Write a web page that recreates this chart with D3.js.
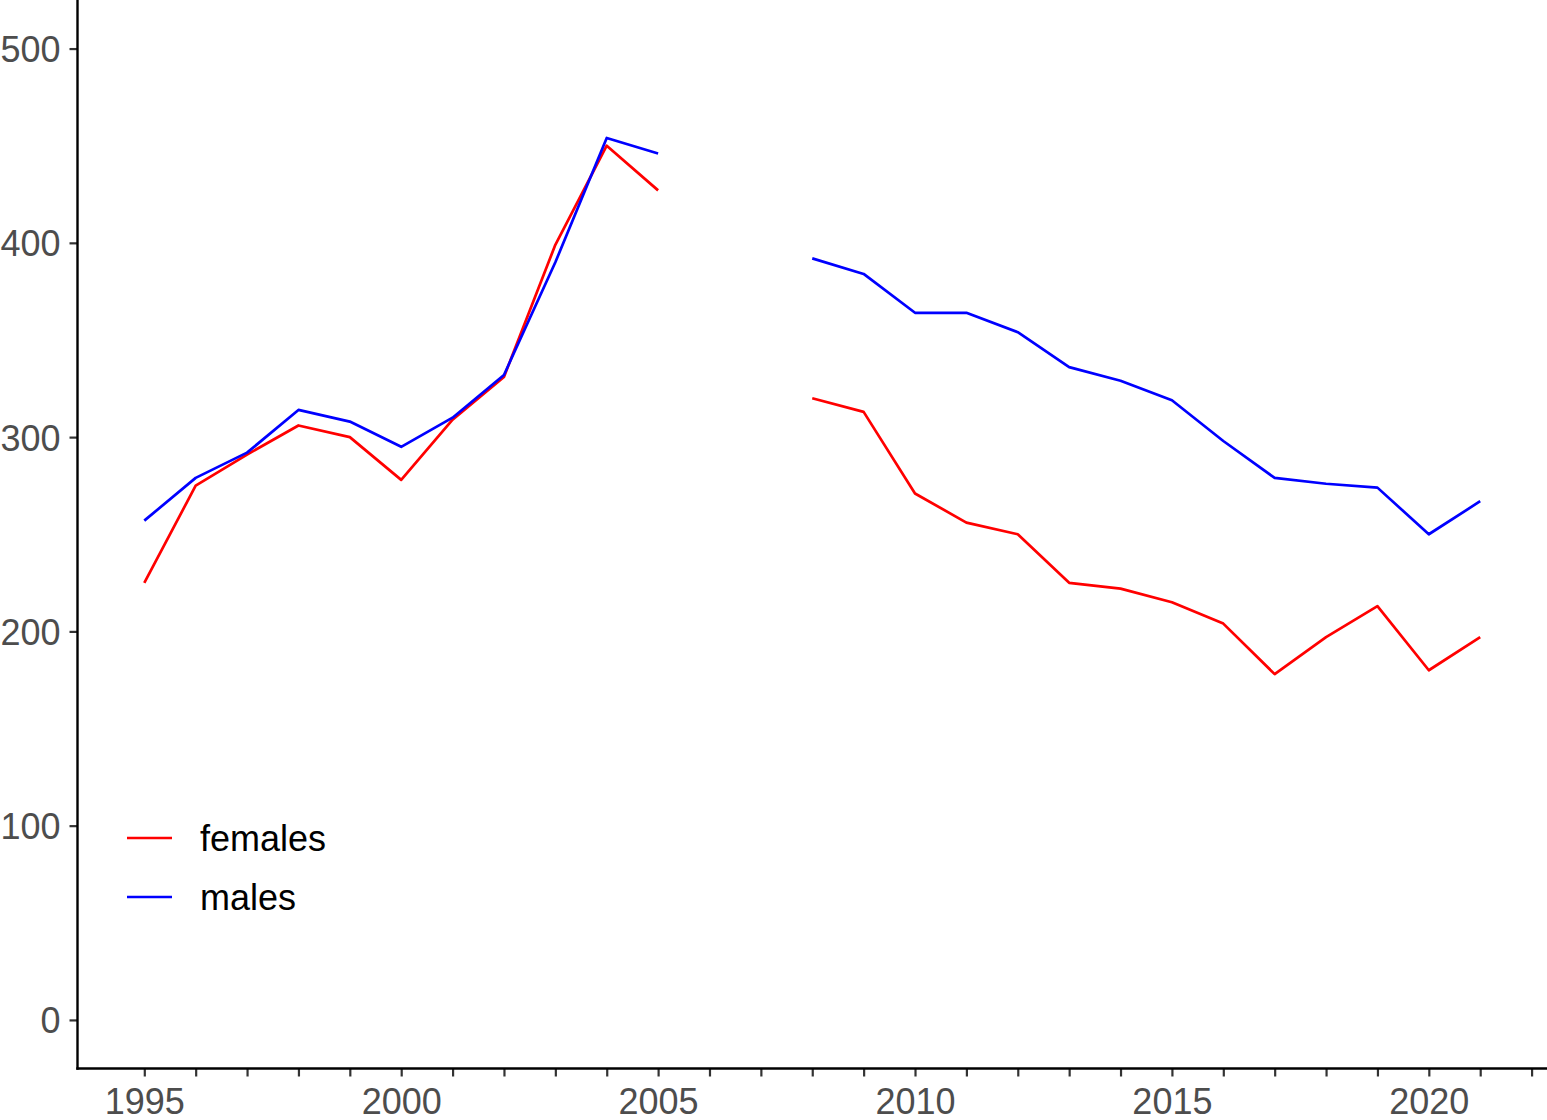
<!DOCTYPE html>
<html>
<head>
<meta charset="utf-8">
<script src="https://cdn.jsdelivr.net/npm/d3@7"></script>
<style>
  html, body { margin: 0; padding: 0; background: #fff; }
  svg { display: block; font-family: "Liberation Sans", Arial, sans-serif; }
</style>
</head>
<body>
<script>
// Annual counts by sex; 2006 and 2007 have no data (gap in the lines)
const years   = [1995, 1996, 1997, 1998, 1999, 2000, 2001, 2002, 2003, 2004, 2005, 2006, 2007,
                 2008, 2009, 2010, 2011, 2012, 2013, 2014, 2015, 2016, 2017, 2018, 2019, 2020, 2021];
const females = [225, 275, 291, 306, 300, 278, 309, 331, 399, 450, 427, null, null,
                 320, 313, 271, 256, 250, 225, 222, 215, 204, 178, 197, 213, 180, 197];
const males   = [257, 279, 292, 314, 308, 295, 310, 332, 390, 454, 446, null, null,
                 392, 384, 364, 364, 354, 336, 329, 319, 298, 279, 276, 274, 250, 267];

const seriesNames  = ["females", "males"];
const seriesColors = ["#FF0000", "#0000FF"];
const yTicks = [0, 100, 200, 300, 400, 500];
const xMajorTicks = [1995, 2000, 2005, 2010, 2015, 2020];
const xMinorTicks = d3.range(1995, 2023);

const W = 1547, H = 1120;
const plotLeft = 77.5, plotTop = 0, plotRight = W, plotBottom = 1068.5;

const svg = d3.select("body").append("svg")
  .attr("width", W).attr("height", H);

// data range 1995–2021 with 5% padding each side; y fixed to 0–500 with 5% padding
const xSpan = 2021 - 1995;
const x = d3.scaleLinear()
  .domain([1995 - 0.05 * xSpan, 2021 + 0.05 * xSpan])
  .range([plotLeft, plotRight]);
const y = d3.scaleLinear()
  .domain([-25, 525])
  .range([plotBottom, plotTop]);

// lines
const series = [females, males];
const line = d3.line()
  .defined(d => d.v != null)
  .x(d => x(d.year))
  .y(d => y(d.v));

series.forEach((vals, i) => {
  const pts = years.map((yr, j) => ({ year: yr, v: vals[j] }));
  svg.append("path")
    .datum(pts)
    .attr("fill", "none")
    .attr("stroke", seriesColors[i])
    .attr("stroke-width", 2.7)
    .attr("stroke-linejoin", "round")
    .attr("d", line);
});

// y axis
const yAxis = d3.axisLeft(y)
  .tickValues(yTicks)
  .tickSize(8)
  .tickPadding(9)
  .tickFormat(d3.format("d"));
const gy = svg.append("g")
  .attr("transform", `translate(${plotLeft},0)`)
  .call(yAxis);
gy.select(".domain").remove();
gy.selectAll(".tick line").attr("stroke", "#333333").attr("stroke-width", 2.2);
gy.selectAll(".tick text")
  .attr("fill", "#4D4D4D")
  .attr("font-size", 36)
  .attr("dy", "0.36em");

// x axis: a tick every year, labels every five years
const xAxis = d3.axisBottom(x)
  .tickValues(xMinorTicks)
  .tickSize(8)
  .tickPadding(12)
  .tickFormat(d => xMajorTicks.includes(d) ? String(d) : "");
const gx = svg.append("g")
  .attr("transform", `translate(0,${plotBottom})`)
  .call(xAxis);
gx.select(".domain").remove();
gx.selectAll(".tick line").attr("stroke", "#333333").attr("stroke-width", 2.2);
gx.selectAll(".tick text")
  .attr("fill", "#4D4D4D")
  .attr("font-size", 36)
  .attr("dy", "0.71em");

// axis lines
svg.append("line")
  .attr("x1", plotLeft).attr("x2", plotLeft)
  .attr("y1", plotTop).attr("y2", plotBottom + 1.2)
  .attr("stroke", "#000").attr("stroke-width", 2.4);
svg.append("line")
  .attr("x1", plotLeft - 1.2).attr("x2", plotRight)
  .attr("y1", plotBottom).attr("y2", plotBottom)
  .attr("stroke", "#000").attr("stroke-width", 2.4);

// legend
const legend = svg.append("g").attr("transform", "translate(127,838)");
seriesNames.forEach((name, i) => {
  const g = legend.append("g").attr("transform", `translate(0,${i * 59})`);
  g.append("line")
    .attr("x1", 0).attr("x2", 45)
    .attr("y1", 0).attr("y2", 0)
    .attr("stroke", seriesColors[i])
    .attr("stroke-width", 2.7);
  g.append("text")
    .attr("x", 73).attr("y", 13)
    .attr("font-size", 36)
    .attr("fill", "#000")
    .text(name);
});
</script>
</body>
</html>
